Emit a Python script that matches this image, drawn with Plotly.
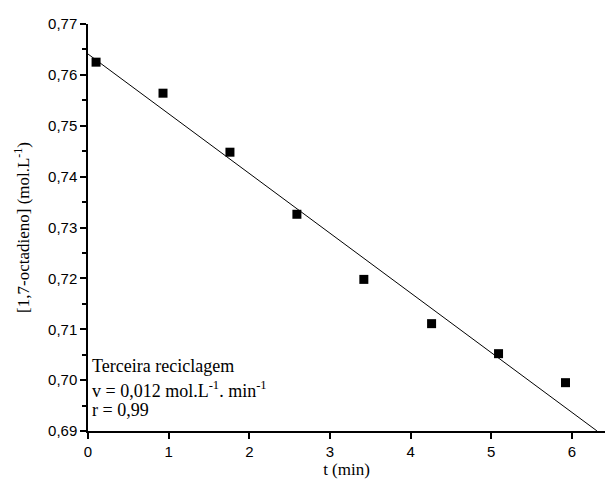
import plotly.graph_objects as go

t_min = [0.10, 0.93, 1.76, 2.59, 3.42, 4.26, 5.09, 5.92]
conc = [0.7625, 0.7564, 0.7448, 0.7326, 0.7198, 0.7111, 0.7052, 0.6995]

fit_intercept = 0.7641
fit_slope = -0.01174
fit_t = [0.0, 6.31]
fit_y = [fit_intercept + fit_slope * t for t in fit_t]

y_ticks = [0.69, 0.70, 0.71, 0.72, 0.73, 0.74, 0.75, 0.76, 0.77]
x_ticks = [0, 1, 2, 3, 4, 5, 6]

fig = go.Figure()
fig.add_trace(go.Scatter(x=fit_t, y=fit_y, mode="lines",
                         line=dict(color="black", width=1), showlegend=False))
fig.add_trace(go.Scatter(x=t_min, y=conc, mode="markers",
                         marker=dict(symbol="square", size=9, color="black"),
                         showlegend=False, cliponaxis=False))

tickfont = dict(family="Liberation Sans", size=15, color="black")
titlefont = dict(family="Liberation Serif", size=17, color="black")

fig.update_layout(
    width=605, height=489,
    margin=dict(l=88, r=0, t=24, b=58),
    plot_bgcolor="white", paper_bgcolor="white",
    separators=",.",
    xaxis=dict(range=[0, 6.41], tickvals=x_ticks, showgrid=False, zeroline=False,
               showline=True, linecolor="black", linewidth=1.5,
               ticks="outside", ticklen=6, tickwidth=1.5, tickcolor="black",
               tickfont=tickfont,
               title=dict(text="t (min)", font=titlefont, standoff=4)),
    yaxis=dict(range=[0.69, 0.77], tickvals=y_ticks, tickformat=".2f",
               showgrid=False, zeroline=False,
               showline=True, linecolor="black", linewidth=1.5,
               ticks="outside", ticklen=6, tickwidth=1.5, tickcolor="black",
               minor=dict(dtick=0.005, ticks="outside", ticklen=4, tickwidth=1.5,
                          tickcolor="black", showgrid=False),
               tickfont=tickfont,
               title=dict(text="[1,7-octadieno] (mol.L<sup>-1</sup>)", font=titlefont, standoff=14)),
)

annfont = dict(family="Liberation Serif", size=18, color="black")
lines = ["Terceira reciclagem",
         "v = 0,012 mol.L<sup>-1</sup>. min<sup>-1</sup>",
         "r = 0,99"]
ys = [366, 389, 410]
for txt, yp in zip(lines, ys):
    fig.add_annotation(x=0.0, xref="paper", xshift=2, y=(431 - yp) / 407, yref="paper",
                       text=txt, showarrow=False, xanchor="left", yanchor="middle",
                       font=annfont)

fig.write_html("out.html")
